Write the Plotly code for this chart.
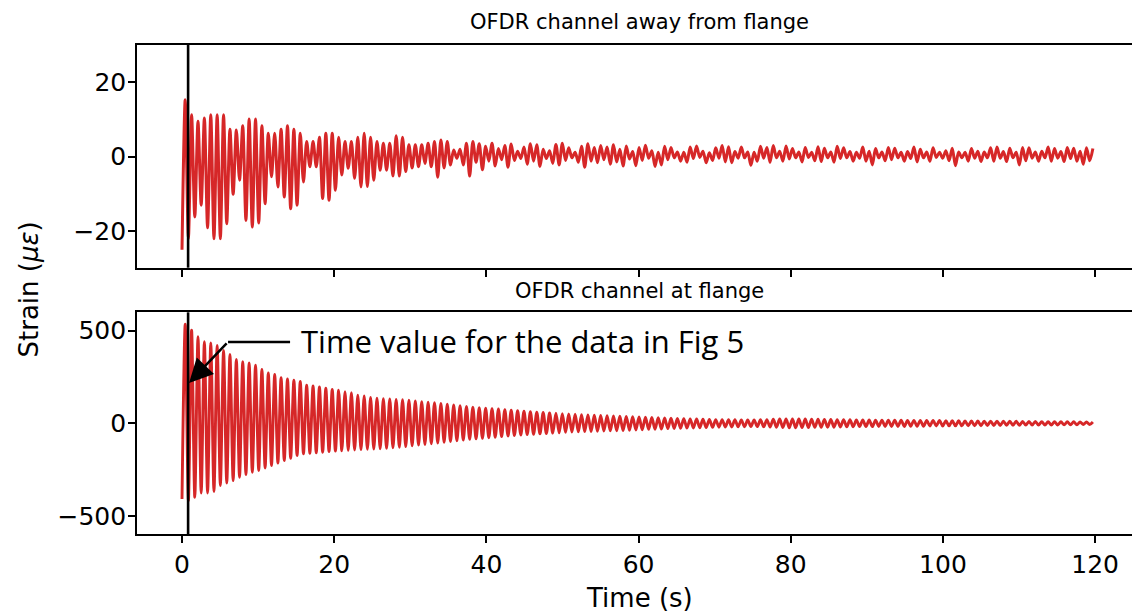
import numpy as np
import plotly.graph_objects as go

# ---------------- data (extrema) ----------------
SAMPLE_DT = 0.42      # s between successive extrema (half period)
MARKER_TIME = 0.8     # s, time of the vertical marker line

X_TICKS = [0, 20, 40, 60, 80, 100, 120]
TOP_TICKS = [-20, 0, 20]
BOT_TICKS = [-500, 0, 500]

TOP_TITLE = "OFDR channel away from flange"
BOT_TITLE = "OFDR channel at flange"
ANNOT_TEXT = "Time value for the data in Fig 5"

# top channel (away from flange)
top_start = -25.0
top_peaks = [
    15.3, 11.3, 9.5, 10.4, 11.3, 11.3, 11.3, 7.4, 7.2, 8.3,
    10.1, 10.1, 8.3, 6.3, 6.3, 7.4, 8.3, 7.4, 6.3, 4.1,
    4.1, 5.2, 6.3, 6.3, 5.2, 4.1, 4.1, 5.2, 6.3, 5.2,
    4.1, 3.6, 3.6, 5.6, 5.2, 3.2, 3.2, 3.2, 3.6, 4.1,
    4.5, 4.1, 1.8, 2.0, 3.6, 4.1,
    3.5, 2.8, 3.6, 2.2, 3.0, 3.4, 1.5, 2.6, 3.5, 3.2,
    2.0, 1.6, 3.3, 3.6, 2.4, 1.2, 2.8, 3.5, 2.5, 3.0,
    2.6, 3.2, 2.0, 2.9, 1.4, 2.5, 3.1, 1.6, 1.2, 2.8,
    2.5, 1.3, 1.2, 2.6, 2.9, 1.5, 1.1, 2.4, 3.0, 2.7,
    1.4, 2.6, 1.3, 1.2, 2.8, 2.5, 3.0, 1.5, 2.9, 2.2,
    1.3, 2.5, 1.2, 2.7, 2.3, 1.3, 2.8, 2.4, 1.4, 1.2,
    2.6, 1.5, 2.2, 1.3, 2.5, 2.3, 1.2, 1.4, 2.6, 2.0,
    1.3, 2.4, 1.2, 1.6, 2.3, 1.3, 1.2, 2.2, 1.5, 1.3,
    2.4, 2.6, 1.4, 2.3, 1.2, 2.5, 2.4, 1.3, 1.5, 2.6,
    2.2, 1.4, 2.5, 2.3, 1.5, 2.4, 2.2,
]
top_troughs = [
    -22.0, -16.2, -13.0, -19.1, -22.0, -22.0, -18.0, -10.1, -6.3, -17.1,
    -18.9, -17.8, -12.6, -5.4, -8.1, -10.8, -14.0, -13.0, -6.8, -2.7,
    -2.7, -11.2, -11.7, -9.0, -4.9, -3.1, -5.8, -8.1, -8.0, -6.3,
    -3.6, -3.6, -5.2, -5.2, -4.0, -3.0, -2.7, -1.8, -2.7, -5.5,
    -3.0, -2.2, -0.4, -2.2, -5.2,
    -1.5, -3.5, -1.2, -2.5, -0.8, -2.8, -1.0, -0.5, -2.0, -1.2,
    -2.6, -0.5, -1.8, -2.2, -1.0, -0.3, -1.5, -2.8, -1.2, -1.6,
    -0.8, -2.0, -1.4, -2.5, -0.6, -2.4, -1.0, -0.4, -2.6, -2.2,
    -0.8, -0.3, -1.2, -1.5, -0.5, -0.2, -1.6, -1.0, -0.4, -1.4,
    -1.6, -0.4, -0.3, -2.3, -1.2, -0.4, -1.5, -0.3, -1.2, -0.6,
    -0.3, -1.4, -0.2, -1.1, -1.3, -0.3, -1.5, -0.5, -0.3, -1.2,
    -0.4, -1.2, -2.2, -0.3, -1.1, -0.8, -0.3, -1.2, -0.5, -1.4,
    -0.3, -1.2, -0.2, -0.4, -1.1, -2.4, -0.3, -1.2, -0.4, -1.3,
    -0.3, -1.2, -0.4, -1.3, -0.3, -2.2, -1.1, -0.4, -1.2, -0.3,
    -1.2, -0.4, -1.3, -0.5, -1.2, -2.0, -1.1,
]

# bottom channel (at flange)
bot_start = -408
bot_peaks = [
    535, 502, 467, 440, 434, 420, 393, 372, 345, 332,
    326, 314, 291, 272, 264, 246, 240, 233, 226, 206,
    201, 196, 189, 183, 178, 171, 165, 152, 147, 140,
    135, 133, 131, 129, 127, 124, 120, 117, 114, 111,
    107, 103, 99, 95, 91, 87, 84, 82, 79, 77,
    74, 71, 68, 65, 62, 60, 58, 56, 54, 52,
    50, 49, 47, 45, 44, 42, 41, 39, 38, 37,
    35, 34, 33, 31, 30, 29, 27, 26, 25, 24,
    23, 22, 21, 20, 20, 19, 19, 18, 18, 18,
    19, 20, 22, 23, 24, 24, 23, 23, 22, 22,
    21, 21, 20, 19, 19, 18, 18, 18, 17, 17,
    17, 17, 17, 16, 16, 16, 15, 15, 15, 14,
    14, 14, 13, 13, 13, 12, 12, 12, 11, 11,
    11, 10, 10, 10, 9, 9, 9, 8, 8, 8,
    7, 7, 7,
]
bot_troughs = [
    -417, -399, -376, -376, -368, -336, -322, -309, -291, -277,
    -264, -255, -241, -228, -214, -201, -189, -174, -165, -162,
    -159, -156, -153, -150, -148, -146, -144, -142, -140, -139,
    -137, -135, -132, -129, -126, -122, -118, -114, -110, -106,
    -102, -98, -94, -90, -87, -84, -81, -78, -75, -72,
    -69, -66, -63, -61, -59, -57, -55, -53, -51, -49,
    -47, -46, -45, -44, -43, -42, -41, -40, -39, -38,
    -36, -35, -33, -32, -31, -29, -28, -27, -26, -25,
    -24, -23, -22, -21, -20, -20, -19, -19, -18, -18,
    -19, -20, -21, -23, -24, -24, -23, -23, -22, -22,
    -21, -21, -20, -19, -19, -18, -18, -18, -17, -17,
    -17, -17, -17, -16, -16, -16, -15, -15, -15, -14,
    -14, -14, -13, -13, -13, -12, -12, -12, -11, -11,
    -11, -10, -10, -10, -9, -9, -9, -8, -8, -8,
    -7, -7,
]


def build(start, peaks, troughs):
    seq = [start]
    for i, p in enumerate(peaks):
        seq.append(p)
        if i < len(troughs):
            seq.append(troughs[i])
    return np.array(seq, dtype=float)


top_y = build(top_start, top_peaks, top_troughs)
bot_y = build(bot_start, bot_peaks, bot_troughs)
top_t = np.arange(len(top_y)) * SAMPLE_DT
bot_t = np.arange(len(bot_y)) * SAMPLE_DT

RED = "#d62728"
FONT = "DejaVu Sans"

fig = go.Figure()
fig.add_trace(go.Scatter(x=top_t, y=top_y, mode="lines", xaxis="x", yaxis="y",
                         line=dict(color=RED, width=3.0, shape="spline", smoothing=0.8),
                         showlegend=False, hoverinfo="skip"))
fig.add_trace(go.Scatter(x=bot_t, y=bot_y, mode="lines", xaxis="x2", yaxis="y2",
                         line=dict(color=RED, width=2.9, shape="spline", smoothing=0.8),
                         showlegend=False, hoverinfo="skip"))

W, H = 1132, 612
L = 137
XR = [-5.915, 124.84]

axis_common = dict(showline=True, linecolor="black", linewidth=1.6,
                   ticks="outside", ticklen=7, tickwidth=1.5, tickcolor="black",
                   showgrid=False, zeroline=False,
                   tickfont=dict(family=FONT, size=25, color="black"))

fig.update_layout(
    width=W, height=H,
    margin=dict(l=L, r=0, t=0, b=0, autoexpand=False),
    paper_bgcolor="white", plot_bgcolor="white",
    font=dict(family=FONT, color="black"),
    xaxis=dict(domain=[0, 1], anchor="y", range=XR, tickvals=X_TICKS,
               showticklabels=False, mirror=True, **axis_common),
    yaxis=dict(domain=[(H - 267.7) / H, (H - 45) / H], anchor="x",
               range=[-29.8, 30.0], tickvals=TOP_TICKS, mirror=False,
               ticklabelstandoff=-3, **axis_common),
    xaxis2=dict(domain=[0, 1], anchor="y2", range=XR, tickvals=X_TICKS,
                matches="x", mirror=True, **axis_common),
    yaxis2=dict(domain=[(H - 534.3) / H, (H - 312.3) / H], anchor="x2",
                range=[-599, 599], tickvals=BOT_TICKS, mirror=False,
                ticklabelstandoff=-3, **axis_common),
)

# vertical marker lines
for xr, yr in (("x", "y domain"), ("x2", "y2 domain")):
    fig.add_shape(type="line", xref=xr, yref=yr, x0=MARKER_TIME, x1=MARKER_TIME,
                  y0=0, y1=1, line=dict(color="black", width=2.6))

# leader line + arrow
fig.add_shape(type="line", xref="x2", yref="y2", x0=6.05, x1=14.2, y0=439, y1=439,
              line=dict(color="black", width=2.5))
fig.add_annotation(xref="x2", yref="y2", x=0.92, y=218, axref="x2", ayref="y2",
                   ax=6.05, ay=439, text="", showarrow=True, arrowhead=2,
                   arrowsize=1.9, arrowwidth=2.5, arrowcolor="black")
fig.add_annotation(xref="x2", yref="y2", x=15.4, y=445, text=ANNOT_TEXT,
                   showarrow=False, xanchor="left", yanchor="middle",
                   font=dict(family="Open Sans", size=31, color="black"))

# titles
cx = (639 - L) / (W - L)
fig.add_annotation(xref="paper", yref="paper", x=cx, y=(H - 22) / H, text=TOP_TITLE,
                   showarrow=False, xanchor="center", yanchor="middle",
                   font=dict(family=FONT, size=21, color="black"))
fig.add_annotation(xref="paper", yref="paper", x=cx, y=(H - 291) / H, text=BOT_TITLE,
                   showarrow=False, xanchor="center", yanchor="middle",
                   font=dict(family=FONT, size=21, color="black"))

# axis labels
fig.add_annotation(xref="paper", yref="paper", x=cx, y=(H - 598) / H, text="Time (s)",
                   showarrow=False, xanchor="center", yanchor="middle",
                   font=dict(family=FONT, size=26, color="black"))
fig.add_annotation(xref="paper", yref="paper", x=(28 - L) / (W - L), y=(H - 289.5) / H,
                   text="Strain (<i>με</i>)", textangle=-90,
                   showarrow=False, xanchor="center", yanchor="middle",
                   font=dict(family=FONT, size=26, color="black"))

fig.write_html("out.html")
